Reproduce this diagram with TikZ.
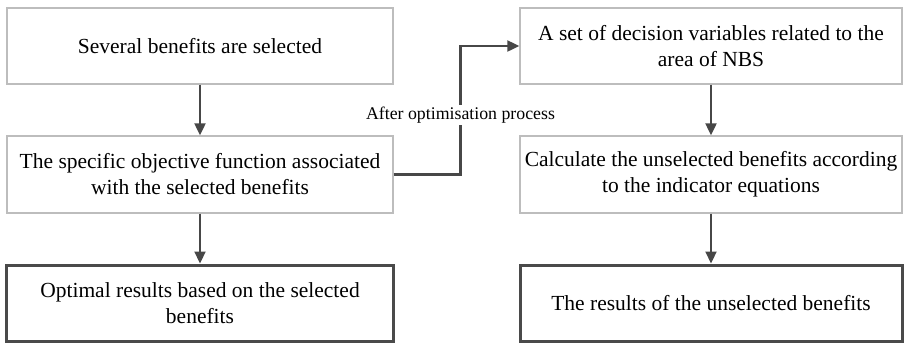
\documentclass[tikz,border=0pt]{standalone}
\usepackage{fontspec}
\setmainfont{Liberation Serif}
\usetikzlibrary{arrows.meta}
\definecolor{boxline}{HTML}{BDBDBD}
\definecolor{arrline}{HTML}{474747}
\definecolor{strongline}{HTML}{4A4A4A}
\tikzset{
  box/.style={draw=boxline, line width=1.4bp, rectangle, align=center, inner sep=2bp,
    font=\fontsize{21.5bp}{26bp}\selectfont},
  strongbox/.style={box, draw=strongline, line width=3bp},
  arr/.style={draw=arrline, line width=2.2bp, -{Triangle[length=12bp,width=11bp]}},
  lbl/.style={fill=white, inner sep=2bp, font=\fontsize{17.8bp}{21bp}\selectfont}
}
\begin{document}
\begin{tikzpicture}[x=1bp,y=-1bp]
\useasboundingbox (0,0) rectangle (907,342);
\node[box, minimum width=386bp, minimum height=76bp] (b1) at (200,46) {Several benefits are selected};
\node[box, minimum width=386bp, minimum height=77bp] (b2) at (200,174.5) {The specific objective function associated\\with the selected benefits};
\node[strongbox, minimum width=386bp, minimum height=76bp] (b3) at (200,303) {Optimal results based on the selected\\benefits};
\node[box, minimum width=382bp, minimum height=76bp] (r1) at (711,46) {A set of decision variables related to the\\area of NBS};
\node[box, minimum width=382bp, minimum height=77bp] (r2) at (711,174.5) {Calculate the unselected benefits according\\to the indicator equations};
\node[strongbox, minimum width=382bp, minimum height=76bp] (r3) at (711,303) {The results of the unselected benefits};
\coordinate (elb) at (460.5,174.5);
\draw[arr] (b1) -- (b2);
\draw[arr] (b2) -- (b3);
\draw[arr] (r1) -- (r2);
\draw[arr] (r2) -- (r3);
\draw[arr] (b2.east) -- (elb) |- (r1.west);
\node[lbl] (lab) at (460.5,115) {After optimisation process};
\end{tikzpicture}
\end{document}
